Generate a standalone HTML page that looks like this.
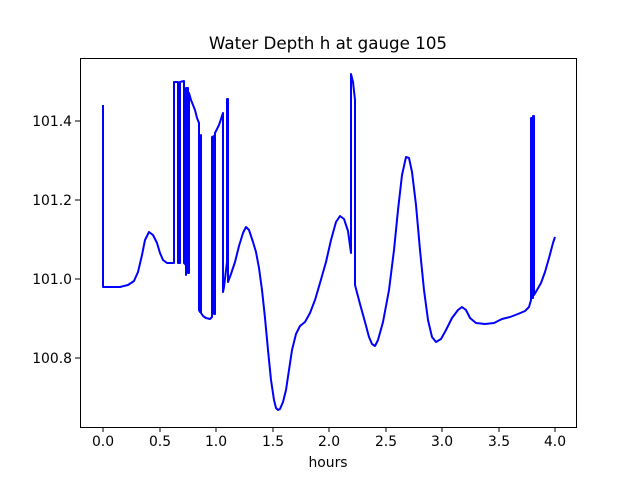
<!DOCTYPE html>
<html><head><meta charset="utf-8"><style>
body{margin:0;background:#fff}
text{font-family:"DejaVu Sans","Liberation Sans",sans-serif;fill:#000}
</style></head><body>
<svg width="640" height="480" xmlns="http://www.w3.org/2000/svg">
<rect width="640" height="480" fill="#fff"/>
<clipPath id="c"><rect x="80" y="58" width="496" height="369"/></clipPath>
<polyline clip-path="url(#c)" fill="none" stroke="#0000ff" stroke-width="2" stroke-linejoin="round" points="
103,105 103,287 110,287 120,287 128,285 134,281 138,272 142,255 145,240 149,232 153,235 157,243 160,253 163,260 167,263 174,263
174,82 178,82 178,263 180,263 180,82 184,81 184,263 186,265 186,275 186,88 188,88 188,273 189,273 189,93 191,100 193,105 195,110 197,118 199,123 199,310 200,312 201,312 201,135 201,313 203,316 206,318 210,319 212,317 212,137 214,136 214,314 215,314 215,133 219,125 223,113 223,292 224,287 227,262 227,99 228,99 228,282 231,274 235,262 239,246 243,233 246,227 249,230 253,242 256,252 259,268 262,290 265,318 268,350 271,380 274,400 276,408 278,410 280,409 283,402 286,390 289,370 292,350 296,334 300,326 305,322 310,313 315,300 320,283 326,262 331,240 336,222 340,216 344,219 348,231 351,253 351,74 353,82 355,100 355,285 360,304 365,322 369,337 372,344 375,346 378,340 383,322 389,290 394,250 398,210 402,175 406,157 409,158 412,172 416,205 420,250 424,290 428,320 432,337 436,342 441,339 446,330 452,318 458,310 462,307 466,310 470,318 476,323 485,324 494,323 502,319 510,317 518,314 525,311 529,307 531,300 531,118 532,118 532,298 533,298 533,116 534,116 534,295 537,290 541,283 545,272 549,258 553,243 555,237"/>
<rect x="80.5" y="58.5" width="496" height="369" fill="none" stroke="#000" stroke-width="1"/>
<g stroke="#000" stroke-width="1">
<line x1="103" y1="427" x2="103" y2="432"/><line x1="160" y1="427" x2="160" y2="432"/><line x1="216" y1="427" x2="216" y2="432"/><line x1="273" y1="427" x2="273" y2="432"/><line x1="329" y1="427" x2="329" y2="432"/><line x1="386" y1="427" x2="386" y2="432"/><line x1="442" y1="427" x2="442" y2="432"/><line x1="499" y1="427" x2="499" y2="432"/><line x1="555" y1="427" x2="555" y2="432"/>
<line x1="75" y1="358" x2="80" y2="358"/><line x1="75" y1="279" x2="80" y2="279"/><line x1="75" y1="200" x2="80" y2="200"/><line x1="75" y1="121" x2="80" y2="121"/>
</g>
<g font-size="13.9" text-anchor="middle">
<text x="103" y="446">0.0</text><text x="160" y="446">0.5</text><text x="216" y="446">1.0</text><text x="273" y="446">1.5</text><text x="329" y="446">2.0</text><text x="386" y="446">2.5</text><text x="442" y="446">3.0</text><text x="499" y="446">3.5</text><text x="555" y="446">4.0</text>
</g>
<g font-size="13.9" text-anchor="end">
<text x="72" y="363">100.8</text><text x="72" y="284">101.0</text><text x="72" y="205">101.2</text><text x="72" y="126">101.4</text>
</g>
<text x="328" y="467" font-size="13.9" text-anchor="middle">hours</text>
<text x="328" y="49" font-size="16.7" text-anchor="middle">Water Depth h at gauge 105</text>
</svg>
</body></html>
